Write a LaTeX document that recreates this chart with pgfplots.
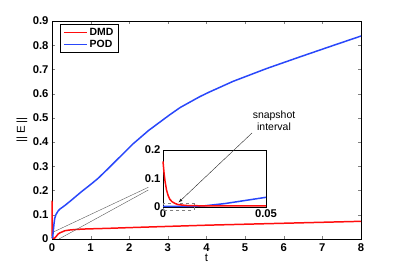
\documentclass[border=0pt]{standalone}
\usepackage{pgfplots}
\pgfplotsset{compat=1.18}
\usepackage{fontspec}
\setmainfont{Liberation Sans}[BoldFont={Liberation Sans Bold}]
\definecolor{dmdred}{rgb}{1,0.05,0.05}
\definecolor{podblue}{rgb}{0.16,0.28,0.98}
\begin{document}
\begin{tikzpicture}
\useasboundingbox (-52bp,-30bp) rectangle (347bp,239bp);
\begin{axis}[
  at={(0,0)}, anchor=south west,
  scale only axis, width=309bp, height=218bp,
  xmin=0, xmax=8, ymin=0, ymax=0.9,
  xtick={0,1,...,8}, ytick={0,0.1,0.2,0.3,0.4,0.5,0.6,0.7,0.8,0.9},
  xticklabels={0,1,2,3,4,5,6,7,8},
  yticklabels={0,0.1,0.2,0.3,0.4,0.5,0.6,0.7,0.8,0.9},
  tick align=inside, major tick length=3bp,
  tick label style={font=\bfseries\fontsize{11.3}{13}\selectfont},
  xticklabel style={yshift=-1bp},
  xlabel={t}, ylabel={|| E ||},
  xlabel style={font=\fontsize{11.5}{13}\selectfont, at={(axis description cs:0.5,-0.087)}, anchor=center},
  ylabel style={font=\fontsize{11.5}{13}\selectfont, at={(axis description cs:-0.097,0.5)}, anchor=center},
  legend style={at={(8bp,215bp)}, anchor=north west, draw=black, font=\bfseries\fontsize{10.5}{12}\selectfont, inner xsep=3pt, inner ysep=2pt, row sep=-1pt, cells={anchor=west}},
  legend cell align=left,
  legend image code/.code={\draw[#1] (0bp,0bp) -- (23bp,0bp);},
  clip=false,
]
\addlegendimage{color=dmdred, line width=1.5pt}
\addlegendentry{DMD}
\addlegendimage{color=podblue, line width=1.5pt}
\addlegendentry{POD}
\addplot[color=dmdred, line width=1.5pt, forget plot] coordinates {
(0,0.158) (0.002,0.06) (0.004,0.025) (0.006,0.013) (0.01,0.006) (0.02,0.004) (0.05,0.003) (0.07,0.004) (0.1,0.009) (0.155,0.02) (0.2,0.025) (0.33,0.034) (0.45,0.037) (0.59,0.039) (0.8,0.041) (1,0.042) (1.45,0.044) (2,0.047) (3,0.052) (4,0.057) (5,0.061) (6,0.065) (7,0.069) (8,0.073)
};
\addplot[color=podblue, line width=1.5pt, forget plot] coordinates {
(0,0.003) (0.02,0.01) (0.05,0.06) (0.07,0.085) (0.1,0.1) (0.155,0.115) (0.2,0.123) (0.33,0.138) (0.5,0.16) (0.76,0.195) (1,0.225) (1.19,0.25) (1.45,0.29) (1.67,0.325) (2.1,0.393) (2.5,0.448) (3.05,0.513) (3.32,0.543) (3.83,0.588) (4.05,0.605) (4.69,0.651) (5.56,0.704) (6.42,0.752) (7.28,0.799) (8,0.838)
};
\end{axis}
\draw[gray!70!black, line width=0.4pt] (2bp,7.3bp) -- (96.3bp,51.7bp);
\draw[gray!70!black, line width=0.4pt] (7bp,0bp) -- (96.3bp,49bp);
\begin{axis}[
  at={(111bp,32bp)}, anchor=south west,
  scale only axis, width=103bp, height=57bp,
  xmin=0, xmax=0.05, ymin=0, ymax=0.2,
  scaled x ticks=false, scaled y ticks=false,
  xtick={0,0.05}, xticklabels={0,0.05},
  ytick={0,0.1,0.2}, yticklabels={0,0.1,0.2},
  major tick length=0bp,
  tick label style={font=\bfseries\fontsize{11.3}{13}\selectfont},
  xticklabel style={yshift=1bp},
  yticklabel style={xshift=1bp},
  axis background/.style={fill=white},
  clip=false,
]
\draw[gray, dashed, line width=0.5pt] (axis cs:0,-0.013) rectangle (axis cs:0.015,0.012);
\addplot[color=podblue, line width=1.5pt] coordinates {
(0,0.002) (0.012,0.002) (0.02,0.004) (0.03,0.012) (0.04,0.023) (0.05,0.034)
};
\addplot[color=dmdred, line width=1.5pt] coordinates {
(0,0.16) (0.0005,0.12) (0.001,0.09) (0.0017,0.06) (0.0025,0.04) (0.0033,0.027) (0.0045,0.018) (0.0057,0.013) (0.007,0.009) (0.009,0.007) (0.012,0.005) (0.02,0.004) (0.05,0.004)
};
\end{axis}
\draw[-latex, gray!30!black, line width=0.4pt] (200bp,106bp) -- (126.5bp,36.5bp);
\node[align=center, font=\fontsize{10.5}{12}\selectfont, inner sep=0pt] at (222bp,118bp) {snapshot\\interval};
\end{tikzpicture}
\end{document}
